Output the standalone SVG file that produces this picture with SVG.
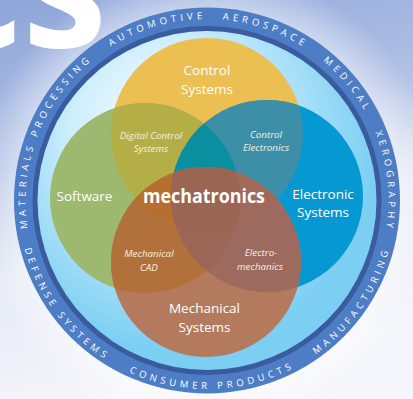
<svg xmlns="http://www.w3.org/2000/svg" width="413" height="399" viewBox="0 0 413 399">
<defs>
<linearGradient id="bg" x1="0" y1="0" x2="0.25" y2="1">
<stop offset="0" stop-color="#8ea5d9"/>
<stop offset="0.4" stop-color="#b0c0e5"/>
<stop offset="0.65" stop-color="#e3e8f4"/>
<stop offset="1" stop-color="#f5f6fb"/>
</linearGradient>
<radialGradient id="halo" cx="207" cy="200.5" r="235" gradientUnits="userSpaceOnUse">
<stop offset="0.78" stop-color="#ffffff" stop-opacity="0.55"/>
<stop offset="1" stop-color="#ffffff" stop-opacity="0"/>
</radialGradient>
<radialGradient id="inner" cx="175" cy="150" r="200" fx="150" fy="110" gradientUnits="userSpaceOnUse">
<stop offset="0" stop-color="#f4fbff"/>
<stop offset="0.45" stop-color="#cdeefc"/>
<stop offset="1" stop-color="#7ccff3"/>
</radialGradient>
<clipPath id="cY"><circle cx="207" cy="134" r="96"/></clipPath>
<clipPath id="cG"><circle cx="145" cy="198" r="95"/></clipPath>
<clipPath id="cB"><circle cx="267" cy="196" r="96"/></clipPath>
<clipPath id="cM"><circle cx="206" cy="262" r="95"/></clipPath>
<circle id="Y" cx="207" cy="134" r="96"/>
<circle id="G" cx="145" cy="198" r="95"/>
<circle id="B" cx="267" cy="196" r="96"/>
<circle id="M" cx="206" cy="262" r="95"/>
<path id="arcTop" d="M 207 382 A 181.5 181.5 0 1 1 207 19 A 181.5 181.5 0 1 1 207 382"/>
<path id="arcBot" d="M 207 12 A 188.5 188.5 0 1 0 207 389 A 188.5 188.5 0 1 0 207 12"/>
</defs>
<style>
.ring { font-family: "Open Sans", "Noto Sans", sans-serif; font-size: 9.5px; fill: #ffffff; letter-spacing: 4px; text-anchor: middle; }
.big { font-family: "Open Sans", "Noto Sans", sans-serif; font-size: 13.5px; fill: #ffffff; text-anchor: middle; }
.sub { font-family: "Open Sans", "Noto Sans", sans-serif; font-size: 9.8px; font-style: italic; fill: #f6f0e2; text-anchor: middle; }
.core { font-family: "Open Sans", "Noto Sans", sans-serif; font-size: 19px; font-weight: bold; fill: #ffffff; text-anchor: middle; }
</style>

<rect x="0" y="0" width="413" height="399" fill="url(#bg)"/>
<circle cx="207" cy="200.5" r="235" fill="url(#halo)"/>
<text x="-65" y="47" font-family="Open Sans, Noto Sans, sans-serif" font-weight="bold" font-size="170" fill="#ffffff">cs</text>

<g id="ring">
<circle cx="207" cy="200.5" r="193" fill="#4d7dc5"/>
<circle cx="207" cy="200.5" r="174.5" fill="#3a5c9f"/>
<circle cx="207" cy="200.5" r="169.5" fill="url(#inner)"/>
<text class="ring"><textPath href="#arcTop" startOffset="351.8">MATERIALS PROCESSING</textPath></text>
<text class="ring"><textPath href="#arcTop" startOffset="518.9">AUTOMOTIVE</textPath></text>
<text class="ring"><textPath href="#arcTop" startOffset="629.9">AEROSPACE</textPath></text>
<text class="ring"><textPath href="#arcTop" startOffset="729.9">MEDICAL</textPath></text>
<text class="ring"><textPath href="#arcTop" startOffset="835.4">XEROGRAPHY</textPath></text>
<text class="ring"><textPath href="#arcBot" startOffset="416">DEFENSE SYSTEMS</textPath></text>
<text class="ring"><textPath href="#arcBot" startOffset="597.8">CONSUMER PRODUCTS</textPath></text>
<text class="ring"><textPath href="#arcBot" startOffset="774.1">MANUFACTURING</textPath></text>
</g>

<g id="control-systems">
<use href="#Y" fill="#ecbf52"/>
<text class="big" x="207" y="75">Control</text>
<text class="big" x="207" y="93.5">Systems</text>
</g>
<g id="software">
<use href="#G" fill="#9cb96f"/>
<text class="big" x="84.5" y="201">Software</text>
</g>
<g id="electronic-systems">
<use href="#B" fill="#0598d3"/>
<text class="big" x="323" y="199">Electronic</text>
<text class="big" x="323" y="217">Systems</text>
</g>
<g id="mechanical-systems">
<use href="#M" fill="#b47a5d"/>
<text class="big" x="204.5" y="313">Mechanical</text>
<text class="big" x="204.5" y="331.5">Systems</text>
</g>

<g id="overlap-shading">
<g clip-path="url(#cY)"><use href="#M" fill="#b8733a"/></g>
<g clip-path="url(#cG)"><use href="#B" fill="#0a8fa0"/></g>
<g clip-path="url(#cY)"><g clip-path="url(#cG)"><use href="#B" fill="#0a8fa0"/></g></g>
<g clip-path="url(#cY)"><g clip-path="url(#cB)"><use href="#M" fill="#a0695a"/></g></g>
<g clip-path="url(#cG)"><g clip-path="url(#cB)"><use href="#M" fill="#9c6656"/></g></g>
<g clip-path="url(#cY)"><g clip-path="url(#cG)"><use href="#M" fill="#b76f2e"/></g></g>
<g clip-path="url(#cY)"><g clip-path="url(#cG)"><g clip-path="url(#cB)"><use href="#M" fill="#9a6552"/></g></g></g>
</g>

<g id="digital-control-systems">
<g clip-path="url(#cY)"><use href="#G" fill="#b3ae45"/></g>
<g clip-path="url(#cY)"><g clip-path="url(#cG)"><use href="#B" fill="#0a8fa0"/></g></g>
<text class="sub" x="151" y="138.5">Digital Control</text>
<text class="sub" x="151" y="151.5">Systems</text>
</g>
<g id="control-electronics">
<g clip-path="url(#cY)"><use href="#B" fill="#3d8fa8"/></g>
<g clip-path="url(#cY)"><g clip-path="url(#cG)"><use href="#B" fill="#0a8fa0"/></g></g>
<text class="sub" x="266" y="138">Control</text>
<text class="sub" x="266" y="151">Electronics</text>
</g>
<g id="mechanical-cad">
<g clip-path="url(#cG)"><use href="#M" fill="#b2713a"/></g>
<g clip-path="url(#cG)"><g clip-path="url(#cY)"><use href="#M" fill="#b76f2e"/></g></g>
<g clip-path="url(#cG)"><g clip-path="url(#cB)"><use href="#M" fill="#9c6656"/></g></g>
<text class="sub" x="149" y="257">Mechanical</text>
<text class="sub" x="149" y="271">CAD</text>
</g>
<g id="electromechanics">
<g clip-path="url(#cB)"><use href="#M" fill="#9c6a5f"/></g>
<g clip-path="url(#cB)"><g clip-path="url(#cY)"><use href="#M" fill="#a0695a"/></g></g>
<g clip-path="url(#cB)"><g clip-path="url(#cG)"><use href="#M" fill="#9c6656"/></g></g>
<g clip-path="url(#cY)"><g clip-path="url(#cG)"><g clip-path="url(#cB)"><use href="#M" fill="#9a6552"/></g></g></g>
<text class="sub" x="261" y="256">Electro-</text>
<text class="sub" x="260" y="270">mechanics</text>
</g>
<g id="mechatronics">
<text class="core" x="204" y="203" textLength="122" lengthAdjust="spacingAndGlyphs">mechatronics</text>
</g>
<g id="connectors"/>
</svg>
